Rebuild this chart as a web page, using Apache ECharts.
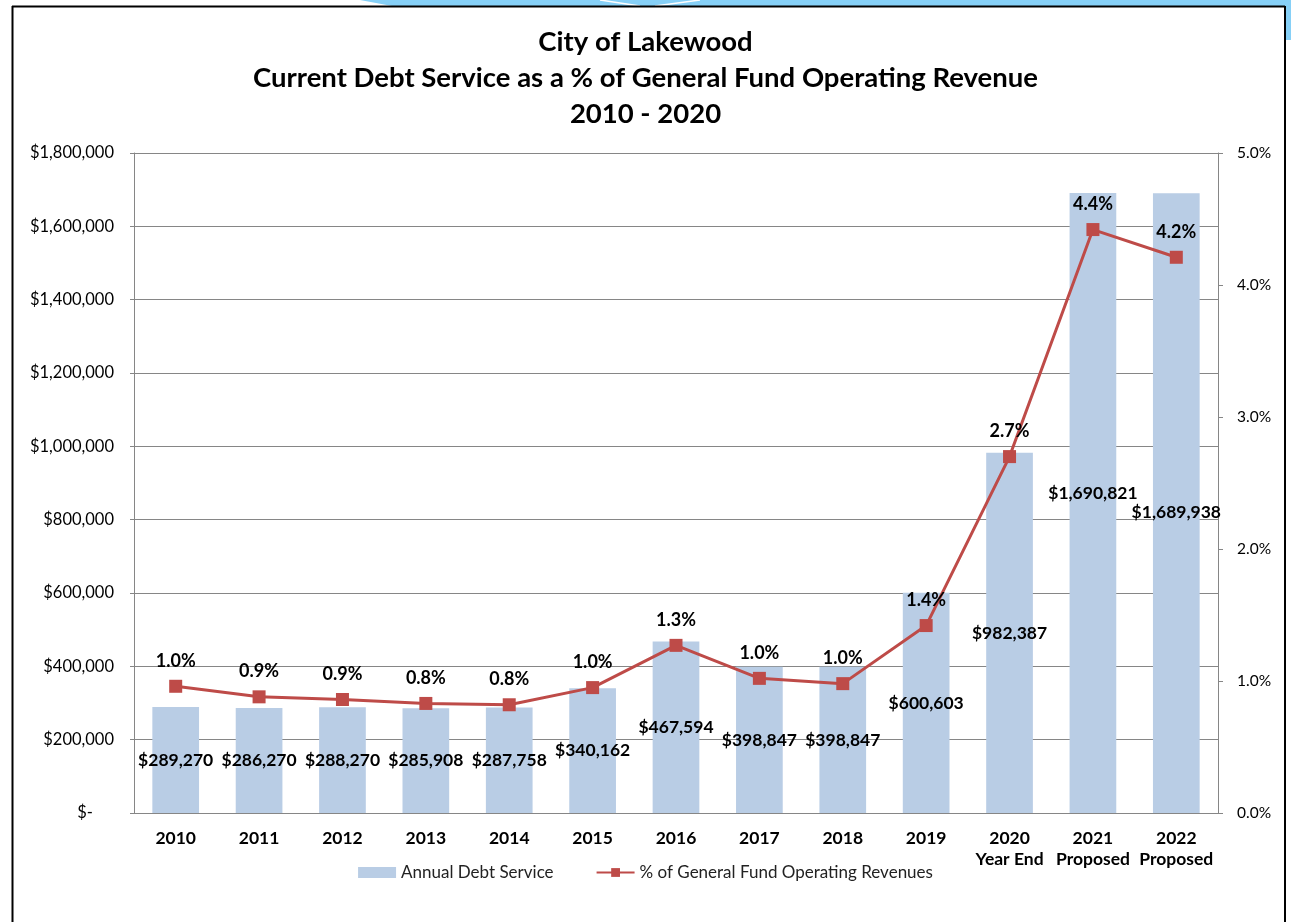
<!DOCTYPE html>
<html>
<head>
<meta charset="utf-8">
<script src="https://cdn.jsdelivr.net/npm/echarts@6/dist/echarts.min.js"></script>
<style>
html,body{margin:0;padding:0;background:#fff;}
#chart{width:1291px;height:922px;}
</style>
</head>
<body>
<div id="chart"></div>
<script>
const categories = ['2010','2011','2012','2013','2014','2015','2016','2017','2018','2019','2020\nYear End','2021\nProposed','2022\nProposed'];
const debtService = [289270, 286270, 288270, 285908, 287758, 340162, 467594, 398847, 398847, 600603, 982387, 1690821, 1689938];
const pctRevenue = [0.96, 0.88, 0.86, 0.83, 0.82, 0.95, 1.27, 1.02, 0.98, 1.42, 2.70, 4.42, 4.21];
const pctLabels = ['1.0%','0.9%','0.9%','0.8%','0.8%','1.0%','1.3%','1.0%','1.0%','1.4%','2.7%','4.4%','4.2%'];
const leftTicks = { min: 0, max: 1800000, interval: 200000 };
const rightTicks = { min: 0, max: 5, interval: 1 };

const FONT = 'Lato, "Open Sans", sans-serif';
const barLabelShift = {11: -10, 12: 9};

const chart = echarts.init(document.getElementById('chart'));
const fmtMoney = v => '$' + v.toLocaleString('en-US');

chart.setOption({
  backgroundColor: '#ffffff',
  animation: false,
  title: {
    text: 'City of Lakewood\nCurrent Debt Service as a % of General Fund Operating Revenue\n2010 - 2020',
    left: 'center',
    top: 19,
    textStyle: { fontFamily: FONT, fontSize: 27.5, fontWeight: 'bold', color: '#000', lineHeight: 36 }
  },
  legend: {
    bottom: 36,
    left: 'center',
    itemGap: 42,
    itemWidth: 38,
    itemHeight: 11,
    textStyle: { fontFamily: FONT, fontSize: 17, color: '#222' },
    data: [
      { name: 'Annual Debt Service', icon: 'rect' },
      { name: '% of General Fund Operating Revenues' }
    ]
  },
  grid: { left: 134, right: 73, top: 153, bottom: 109 },
  xAxis: {
    type: 'category',
    data: categories,
    axisLine: { lineStyle: { color: '#868686', width: 1 } },
    axisTick: { show: false },
    axisLabel: { fontFamily: FONT, fontSize: 17.5, fontWeight: 'bold', color: '#000', margin: 15, lineHeight: 21, interval: 0 }
  },
  yAxis: [
    {
      type: 'value',
      min: leftTicks.min, max: leftTicks.max, interval: leftTicks.interval,
      axisLine: { show: true, lineStyle: { color: '#868686' } },
      axisTick: { show: true, length: 4, lineStyle: { color: '#868686' } },
      splitLine: { show: true, lineStyle: { color: '#868686', width: 1 } },
      axisLabel: {
        fontFamily: FONT, fontSize: 16.5, color: '#000', margin: 20,
        formatter: v => v === 0 ? '$-     ' : fmtMoney(v)
      }
    },
    {
      type: 'value',
      min: rightTicks.min, max: rightTicks.max, interval: rightTicks.interval,
      position: 'right',
      axisLine: { show: true, lineStyle: { color: '#868686' } },
      axisTick: { show: true, length: 5, lineStyle: { color: '#868686' } },
      splitLine: { show: false },
      axisLabel: {
        fontFamily: FONT, fontSize: 15.5, color: '#000', margin: 19,
        formatter: v => v.toFixed(1) + '%'
      }
    }
  ],
  series: [
    {
      name: 'Annual Debt Service',
      type: 'bar',
      yAxisIndex: 0,
      barWidth: '56%',
      itemStyle: { color: '#b9cde5' },
      data: debtService.map((v, i) => ({
        value: v,
        label: { offset: [0, barLabelShift[i] || 0] }
      })),
      label: {
        show: true,
        position: 'inside',
        fontFamily: FONT, fontSize: 17.5, fontWeight: 'bold', color: '#000',
        formatter: p => fmtMoney(p.value)
      },
      z: 1
    },
    {
      name: '% of General Fund Operating Revenues',
      type: 'line',
      yAxisIndex: 1,
      data: pctRevenue,
      symbol: 'rect',
      symbolSize: 13,
      lineStyle: { color: '#be4b48', width: 3 },
      itemStyle: { color: '#be4b48' },
      label: {
        show: true,
        position: 'top',
        distance: 10,
        fontFamily: FONT, fontSize: 18, fontWeight: 'bold', color: '#000',
        formatter: p => pctLabels[p.dataIndex]
      },
      z: 3
    }
  ],
  graphic: [
    { type: 'polygon', silent: true, shape: { points: [[360,0],[1291,0],[1291,40],[1286,40],[1286,6],[392,6]] }, style: { fill: '#86d0f7' } },
    { type: 'line', silent: true, shape: { x1: 600, y1: 0, x2: 640, y2: 6 }, style: { stroke: '#ffffff', lineWidth: 1.5 } },
    { type: 'line', silent: true, shape: { x1: 655, y1: 6, x2: 700, y2: 0 }, style: { stroke: '#ffffff', lineWidth: 1.5 } },
    { type: 'line', silent: true, shape: { x1: 12, y1: 6.5, x2: 1285, y2: 6.5 }, style: { stroke: '#000', lineWidth: 2 } },
    { type: 'line', silent: true, shape: { x1: 12.5, y1: 6, x2: 12.5, y2: 922 }, style: { stroke: '#000', lineWidth: 2 } },
    { type: 'line', silent: true, shape: { x1: 1285, y1: 6, x2: 1285, y2: 922 }, style: { stroke: '#000', lineWidth: 2 } }
  ]
});
</script>
</body>
</html>
